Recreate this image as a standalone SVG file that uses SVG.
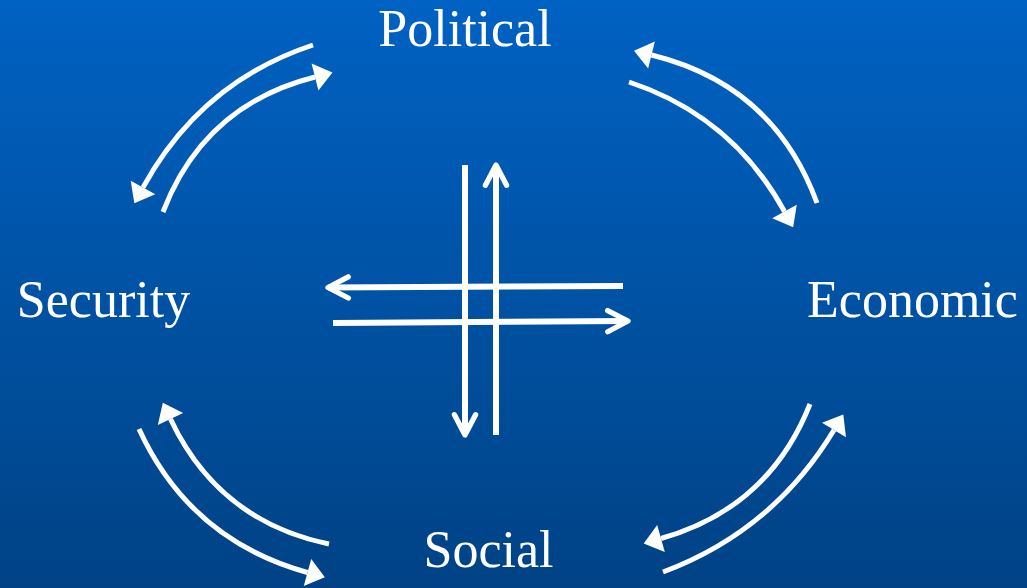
<svg xmlns="http://www.w3.org/2000/svg" width="1027" height="588" viewBox="0 0 1027 588">
  <defs>
    <linearGradient id="bg" x1="0" y1="0" x2="0" y2="1">
      <stop offset="0" stop-color="#0062C3"/>
      <stop offset="1" stop-color="#004285"/>
    </linearGradient>
    <!-- solid triangular head for the curved arrows -->
    <marker id="head" markerUnits="userSpaceOnUse" markerWidth="20" markerHeight="30" refX="0" refY="14" orient="auto" overflow="visible">
      <path d="M0,0 L18,14 L0,28 z" fill="#fff"/>
    </marker>
    <!-- open chevron head for the straight arrows -->
    <marker id="chev" markerUnits="userSpaceOnUse" markerWidth="30" markerHeight="30" refX="0" refY="0" viewBox="-30 -15 34 30" orient="auto" overflow="visible">
      <path d="M-23,-12 L0,0 L-23,12" fill="none" stroke="#fff" stroke-width="6" stroke-linecap="round" stroke-linejoin="round"/>
    </marker>
    <style>
      .label { font-family: "Liberation Serif", "Times New Roman", serif; font-size: 52px; fill: #fff; text-anchor: middle; }
      .arc { fill: none; stroke: #fff; stroke-width: 5; marker-end: url(#head); }
      .axis { fill: none; stroke: #fff; stroke-width: 6; marker-end: url(#chev); }
    </style>
  </defs>

  <rect x="0" y="0" width="1027" height="588" fill="url(#bg)"/>

  <g id="connectors">
    <!-- Security / Political -->
    <path class="arc" d="M313,45 Q201,82 143,187.5"/>
    <path class="arc" d="M163,212 Q204,105 315,77"/>
    <!-- Political / Economic -->
    <path class="arc" d="M817,203 Q774,85 651.5,55"/>
    <path class="arc" d="M629,82 Q732,116 784.5,211.5"/>
    <!-- Security / Social -->
    <path class="arc" d="M139,429 Q190,540 307.5,572.5"/>
    <path class="arc" d="M329,544 Q218.5,521 170.5,419"/>
    <!-- Economic / Social -->
    <path class="arc" d="M810,404 Q769,508 661,538.5"/>
    <path class="arc" d="M663,572 Q773,531 834,430"/>
    <!-- central cross -->
    <path class="axis" d="M465,165 L465,435"/>
    <path class="axis" d="M496,435 L496,165"/>
    <path class="axis" d="M623,286 L328,287.5"/>
    <path class="axis" d="M333,323 L628,321"/>
  </g>

  <g id="political"><text class="label" x="465" y="46">Political</text></g>
  <g id="security"><text class="label" x="103.5" y="317">Security</text></g>
  <g id="economic"><text class="label" x="912.5" y="317">Economic</text></g>
  <g id="social"><text class="label" x="488.5" y="567">Social</text></g>
</svg>
